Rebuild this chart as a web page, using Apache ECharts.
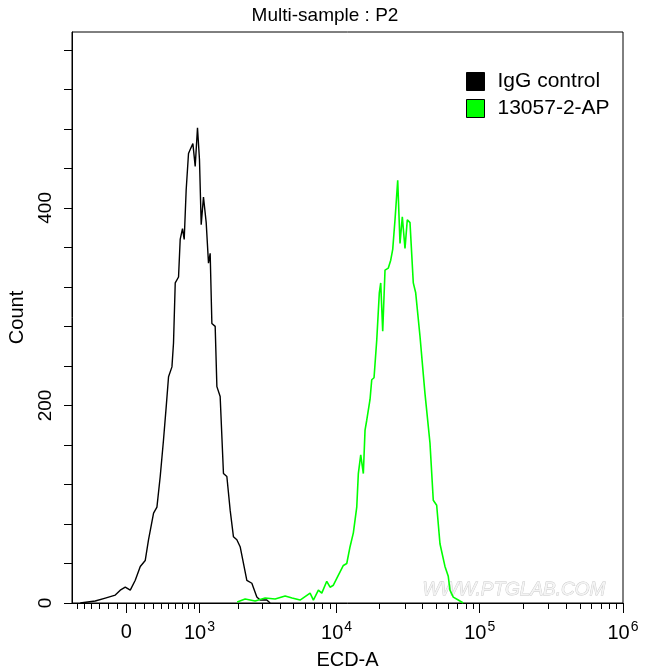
<!DOCTYPE html>
<html>
<head>
<meta charset="utf-8">
<script src="https://cdn.jsdelivr.net/npm/echarts@6/dist/echarts.min.js"></script>
<style>
html,body{margin:0;padding:0;background:#fff;}
#chart{width:650px;height:670px;}
</style>
</head>
<body>
<div id="chart"></div>
<script>
// ---- data (fluorescence value, count) ----
const igX = [-551,-450,-354,-234,-121,-66,-11,44,99,155,211,249,309,350,391,433,469,500,547,569,594,643,668,704,731,763,802,831,878,920,963,1001,1035,1081,1138,1188,1225,1264,1342,1384,1467,1555,1650,1747,1849,1959,2072,2319,2521,2739,2892,3230,3409];
const igY = [0,1,2,5,8,13,16,13,23,37,43,64,91,97,128,165,199,229,239,263,324,330,368,379,368,418,455,459,465,442,481,449,383,411,385,344,354,283,280,219,209,131,128,94,67,64,57,23,20,6,3,3,0];

const apX = [1969,2254,2663,3141,3700,4355,4878,5552,6527,6884,7462,7883,8543,9010,9502,10036,11161,11789,12431,13109,13846,14205,14764,15394,15821,16260,17145,17620,18283,19095,19908,20361,21025,21819,23007,23910,24690,25619,26756,27762,28808,30083,31214,32599,34374,35724,38281,41481,44946,47394,50054,52780,57193,60303,61973,65349,70805,76719];
const apY = [1,4,2,5,4,7,5,3,10,3,13,10,22,16,18,25,38,40,57,71,97,131,150,131,175,185,206,226,228,266,314,324,275,337,339,347,358,388,428,364,391,359,388,385,324,314,270,212,162,104,99,60,37,27,13,6,3,0];

const seriesNames = ['IgG control', '13057-2-AP'];
const xMajorTicks = [0, 1e3, 1e4, 1e5, 1e6];
const xMajorLabels = ['0', '10|3', '10|4', '10|5', '10|6'];
const xMinorTicks = [-600,-500,-400,-300,-200,-100,100,200,300,400,500,600,700,800,900,
  2e3,3e3,4e3,5e3,6e3,7e3,8e3,9e3,
  2e4,3e4,4e4,5e4,6e4,7e4,8e4,9e4,
  2e5,3e5,4e5,5e5,6e5,7e5,8e5,9e5];
const xRange = [-673, 1e6];
const yTicks = [0,40,80,120,160,200,240,280,320,360,400,440,480,520,560];
const yLabels = [0,200,400];
const yMax = 578;

// biexponential-like (arcsinh) display transform
const W = 341;
function T(v){ return Math.asinh(v/(2*W))/Math.LN10; }

const FONT = '"Liberation Sans", Arial, sans-serif';
const chart = echarts.init(document.getElementById('chart'), null, {renderer:'canvas'});

const xmin = T(xRange[0]), xmax = T(xRange[1]);
const majorT = xMajorTicks.map(T);

function majorLabel(val){
  let best = 0, bd = Infinity;
  majorT.forEach((t,i)=>{ const d=Math.abs(t-val); if(d<bd){bd=d;best=i;} });
  const s = xMajorLabels[best];
  if (s.indexOf('|')<0) return '{b|'+s+'}';
  const p = s.split('|');
  return '{b|'+p[0]+'}{s|'+p[1]+'}';
}

const option = {
  animation:false,
  backgroundColor:'#fff',
  title:{
    text:'Multi-sample : P2', left:'center', top:1,
    textStyle:{fontFamily:FONT, fontSize:19, fontWeight:'normal', color:'#000'}
  },
  legend:{
    orient:'vertical', left:466, top:71, padding:0, itemGap:6,
    itemWidth:18, itemHeight:18,
    textStyle:{fontFamily:FONT, fontSize:21, lineHeight:18, color:'#000', padding:[0,0,0,8]},
    data:[
      {name:seriesNames[0], icon:'rect', itemStyle:{color:'#000000', borderColor:'#000', borderWidth:1}},
      {name:seriesNames[1], icon:'rect', itemStyle:{color:'#00ff00', borderColor:'#000', borderWidth:1}}
    ]
  },
  grid:{left:72, right:27, top:32, bottom:67, show:true, borderColor:'#000', borderWidth:1,
        backgroundColor:'#fff', containLabel:false, outerBoundsMode:'none'},
  xAxis:[
    {
      type:'value', min:xmin, max:xmax, position:'bottom',
      name:'ECD-A', nameLocation:'middle', nameGap:47,
      nameTextStyle:{fontFamily:FONT, fontSize:20, color:'#000'},
      axisLine:{show:true, onZero:false, lineStyle:{color:'#000', width:1}},
      splitLine:{show:false},
      axisTick:{show:true, length:10, customValues:majorT, lineStyle:{color:'#000', width:1}},
      axisLabel:{
        show:true, customValues:majorT, margin:17,
        formatter:majorLabel,
        rich:{
          b:{fontFamily:FONT, fontSize:20, color:'#000', lineHeight:24},
          s:{fontFamily:FONT, fontSize:14, color:'#000', padding:[0,0,13,1]}
        }
      }
    },
    {
      type:'value', min:xmin, max:xmax, position:'bottom',
      axisLine:{show:false, onZero:false},
      splitLine:{show:false},
      axisTick:{show:true, length:6, customValues:xMinorTicks.map(T), lineStyle:{color:'#000', width:1}},
      axisLabel:{show:false}
    }
  ],
  yAxis:{
    type:'value', min:0, max:yMax,
    name:'Count', nameLocation:'middle', nameGap:45, nameRotate:90,
    nameTextStyle:{fontFamily:FONT, fontSize:20, color:'#000'},
    axisLine:{show:true, onZero:false, lineStyle:{color:'#000', width:1}},
    splitLine:{show:false},
    axisTick:{show:true, length:8, customValues:yTicks, lineStyle:{color:'#000', width:1}},
    axisLabel:{show:true, customValues:yLabels, rotate:90, margin:17,
      fontFamily:FONT, fontSize:19, color:'#000'}
  },
  graphic:[
    {type:'text', left:422, top:580, z:1,
     style:{text:'WWW.PTGLAB.COM', font:'italic 19px '+FONT, fill:'#f4f4f4', stroke:'#c8c8c8', lineWidth:0.8}}
  ],
  series:[
    {name:seriesNames[0], type:'line', xAxisIndex:0, showSymbol:false, symbol:'none', z:3,
     data:igX.map((x,i)=>[T(x), igY[i]]),
     lineStyle:{color:'#000000', width:1.4}, itemStyle:{color:'#000'}},
    {name:seriesNames[1], type:'line', xAxisIndex:0, showSymbol:false, symbol:'none', z:4,
     data:apX.map((x,i)=>[T(x), apY[i]]),
     lineStyle:{color:'#00ff00', width:1.6}, itemStyle:{color:'#00ff00'}}
  ]
};
chart.setOption(option);
</script>
</body>
</html>
